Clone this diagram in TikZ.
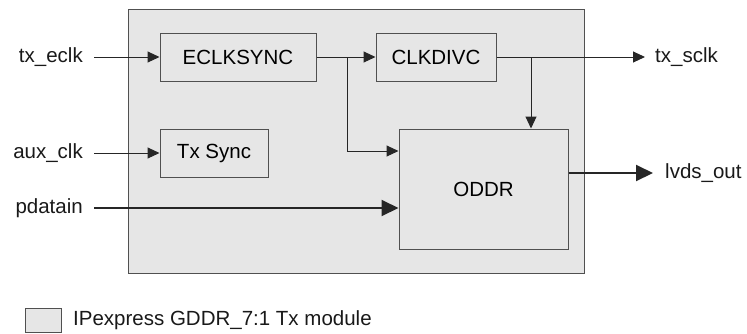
\documentclass[tikz,border=0pt]{standalone}
\usepackage{fontspec}
\setmainfont{Liberation Sans}
\usetikzlibrary{arrows.meta}
\definecolor{fillg}{HTML}{E6E6E6}
\definecolor{edgeg}{HTML}{505050}
\begin{document}
\begin{tikzpicture}[x=1pt,y=-1pt,
  font=\fontsize{20.5}{24}\selectfont,
  blk/.style={draw=edgeg,line width=1pt,fill=fillg,rectangle,inner sep=0pt},
  lbl/.style={inner sep=0pt,text=black!90},
  arr/.style={line width=1pt,draw=black!85,-{Triangle[length=12pt,width=11pt]}},
  bigarr/.style={line width=2pt,draw=black!85,-{Triangle[length=17pt,width=16pt]}},
  ln/.style={line width=1pt,draw=black!85}]
\useasboundingbox (0,0) rectangle (747,333);
% outer module
\node[blk,minimum width=456pt,minimum height=264pt] (mod) at (356,141) {};
% blocks
\node[blk,minimum width=156pt,minimum height=48pt] (ecl) at (238,57) {ECLKSYNC};
\node[blk,minimum width=108pt,minimum height=48pt] (txs) at (214,153) {Tx Sync};
\node[blk,minimum width=120pt,minimum height=48pt] (cdv) at (436,57) {CLKDIVC};
\node[blk,minimum width=169pt,minimum height=120pt] (oddr) at (483.5,189) {ODDR};
% labels
\node[lbl,anchor=east] (teclk) at (83,57) {tx\_eclk};
\node[lbl,anchor=east] (aux) at (83,153) {aux\_clk};
\node[lbl,anchor=east] (pd) at (83,208) {pdatain};
\node[lbl,anchor=west] (tsclk) at (655,57) {tx\_sclk};
\node[lbl,anchor=west] (lvds) at (665,173) {lvds\_out};
% coordinates
\coordinate (b1) at (347,57);
\coordinate (b2) at (531,57);
% connectors
\draw[arr] ([xshift=11pt]teclk.east) -- (ecl.west);
\draw[arr] ([xshift=11pt]aux.east) -- (txs.west);
\draw[bigarr] ([xshift=11pt]pd.east) -- (pd.east -| oddr.west);
\draw[arr] (ecl.east) -- (cdv.west);
\draw[arr] (b1) |- ([yshift=38pt]oddr.west);
\draw[arr] (cdv.east) -- ([xshift=-10pt]tsclk.west);
\draw[arr] (b2) -- (b2 |- oddr.north);
\draw[bigarr] (oddr.east |- lvds.west) -- ([xshift=-12pt]lvds.west);
% legend
\node[blk,minimum width=36pt,minimum height=24pt] (leg) at (43,320) {};
\node[lbl,anchor=west] (legt) at (73,320) {IPexpress GDDR\_7:1 Tx module};
\end{tikzpicture}
\end{document}
